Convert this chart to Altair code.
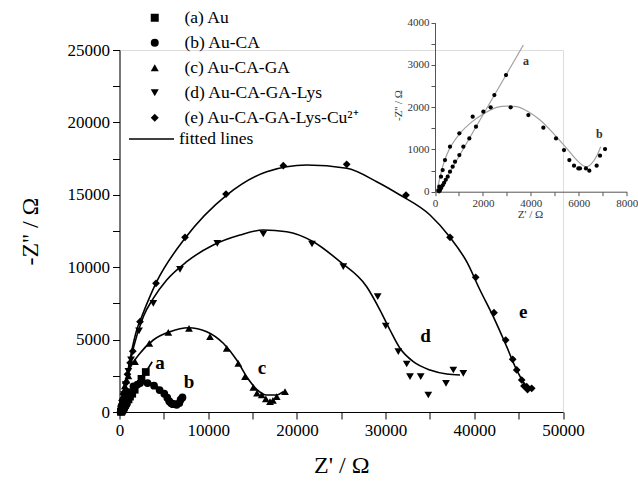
import altair as alt
import pandas as pd

# ---------------- data ----------------
names = ["(a) Au", "(b) Au-CA", "(c) Au-CA-GA", "(d) Au-CA-GA-Lys", "(e) Au-CA-GA-Lys-Cu²⁺"]
shapes = ["square", "circle", "triangle-up", "triangle-down", "diamond"]

a_x = [170, 210, 260, 320, 380, 450, 529, 626, 737, 835, 1016, 1183, 1433, 1711, 2477, 2963]
a_y = [10, 40, 90, 150, 210, 280, 355, 473, 592, 710, 868, 1065, 1262, 1538, 2288, 2761]
a_fit_x = [146, 3687]
a_fit_y = [0, 3471]

b_x = [140, 181, 250, 320, 417, 626, 1016, 1572, 2017, 2323, 3158, 3896, 4522, 5050, 5384,
       5607, 5802, 5983, 6050, 6300, 6440, 6746, 6887, 7096]
b_y = [30, 118, 355, 513, 750, 1065, 1381, 1775, 1893, 1996, 1996, 1815, 1515, 1262, 986,
       750, 615, 552, 552, 552, 497, 615, 852, 1010]
b_fit_x = [70, 181, 320, 487, 696, 1043, 1461, 1948, 2574, 2991, 3409, 3896, 4383, 4939, 5496,
           5913, 6191, 6330, 6539, 6748, 6915]
b_fit_y = [0, 276, 592, 868, 1105, 1381, 1617, 1815, 1996, 2027, 2012, 1893, 1696, 1381, 1026,
           750, 615, 592, 671, 844, 1065]

c_x = [100, 150, 220, 300, 450, 600, 800, 1000, 1747, 3360, 5502, 7835, 10203, 12086, 13393,
       14148, 15084, 15500, 16032, 16500, 16968, 17300, 17723, 18659]
c_y = [150, 400, 700, 1000, 1400, 1800, 2200, 2500, 3474, 4744, 5504, 5780, 5200, 4399, 3363,
       2438, 1706, 1300, 1174, 900, 711, 800, 1057, 1402]
c_fit_x = [56, 620, 1184, 2311, 3811, 5693, 7756, 9831, 11703, 13213, 14341, 15468, 16595, 17723, 18467]
c_fit_y = [138, 1982, 3018, 4054, 4972, 5546, 5822, 5546, 4744, 3591, 2438, 1568, 1174, 1174, 1402]

d_x = [150, 300, 500, 700, 1000, 1300, 2200, 3811, 6821, 11026, 16212, 21703, 25231, 29110,
       30012, 31432, 32379, 32751, 33958, 34814, 36810, 37633, 38760]
d_y = [200, 600, 1200, 1900, 2800, 3600, 5600, 7507, 9855, 11650, 12293, 11602, 10034, 7963,
       5939, 4164, 3315, 2438, 2438, 1174, 1982, 2901, 2673]
d_fit_x = [150, 800, 1600, 2683, 3811, 5321, 7576, 10575, 13585, 16212, 18850, 21849, 24859,
           27869, 29369, 30496, 31624, 33123, 35006, 36889, 38388]
d_fit_y = [0, 2200, 4500, 6581, 7852, 9116, 10380, 11533, 12224, 12569, 12452, 11761, 10380,
           8653, 7044, 5663, 4399, 3474, 2901, 2624, 2555]

e_x = [150, 250, 400, 500, 700, 900, 1200, 1500, 2311, 4115, 7385, 12007, 18467, 25615, 32300,
       37260, 40157, 42220, 43540, 44329, 44780, 45344, 45600, 45908, 46000, 46471]
e_y = [200, 400, 900, 1300, 2000, 2600, 3400, 4200, 6236, 8888, 12065, 15055, 17010, 17106, 14986,
       12065, 9302, 6858, 4972, 3639, 2901, 2210, 1800, 1747, 1550, 1637]
e_fit_x = [150, 700, 1300, 1939, 2503, 4194, 7385, 12086, 16595, 21105, 25615, 28997, 31624,
           35006, 37260, 39143, 40642, 42141, 43652, 44780, 46088, 46651]
e_fit_y = [0, 2000, 4000, 5663, 6581, 8999, 11996, 14986, 16595, 17058, 16830, 15905, 14986,
           13605, 12065, 10380, 8425, 6581, 4510, 2901, 1637, 1519]

curve_labels = ["a", "b", "c", "d", "e"]
curve_label_x = [4566, 7835, 16065, 34500, 45525]
curve_label_y = [3384, 2072, 3039, 5280, 6927]

inset_labels = ["a", "b"]
inset_label_x = [3798, 6857]
inset_label_y = [3100, 1366]

# ---------------- tables ----------------
pts = []
for n, xs, ys in zip(names, [a_x, b_x, c_x, d_x, e_x], [a_y, b_y, c_y, d_y, e_y]):
    for x, y in zip(xs, ys):
        pts.append({"x": x, "y": y, "series": n})
pts = pd.DataFrame(pts)

fits = []
for n, xs, ys in zip(names, [a_fit_x, b_fit_x, c_fit_x, d_fit_x, e_fit_x],
                     [a_fit_y, b_fit_y, c_fit_y, d_fit_y, e_fit_y]):
    for i, (x, y) in enumerate(zip(xs, ys)):
        fits.append({"x": x, "y": y, "series": n, "i": i, "fit": "fitted lines"})
fits = pd.DataFrame(fits)

lab = pd.DataFrame({"x": curve_label_x, "y": curve_label_y, "t": curve_labels})

ipts = pts[pts["series"].isin(names[:2])]
ifits = fits[fits["series"].isin(names[:2])]
ilab = pd.DataFrame({"x": inset_label_x, "y": inset_label_y, "t": inset_labels})

# ---------------- layout ----------------
W, H = 443.5, 362
L, T = 119.5, 50
SERIF = "Liberation Serif"

# inset geometry in plot coordinates
IX0, IX1 = 435 - L, 626.7 - L
IY0, IY1 = 191.7 - T, 22.7 - T

main_x = alt.X("x:Q", scale=alt.Scale(domain=[0, 50000], nice=False),
               axis=alt.Axis(values=list(range(0, 50001, 5000)),
                             labelExpr="datum.value % 10000 == 0 ? format(datum.value, 'd') : ''",
                             title="Z' / Ω", titleX=W / 2, titleY=53, titleBaseline="middle",
                             titleFont=SERIF, titleFontSize=24, titleFontWeight="normal",
                             labelFont=SERIF, labelFontSize=17, labelColor="black",
                             tickSize=7, tickColor="black", domainColor="black",
                             labelPadding=3, grid=False, labelFlush=False))
main_y = alt.Y("y:Q", scale=alt.Scale(domain=[0, 25000], nice=False),
               axis=alt.Axis(values=list(range(0, 25001, 2500)),
                             labelExpr="datum.value % 5000 == 0 ? format(datum.value, 'd') : ''",
                             title="-Z'' / Ω", titleX=-89, titleY=H / 2, titleBaseline="middle",
                             titleAlign="center", titleAngle=270,
                             titleFont=SERIF, titleFontSize=24, titleFontWeight="normal",
                             labelFont=SERIF, labelFontSize=17, labelColor="black",
                             tickSize=7, tickColor="black", domainColor="black",
                             labelPadding=3, grid=False, labelFlush=False))

main_lines = alt.Chart(fits).mark_line(strokeWidth=1.6, interpolate="monotone").encode(
    x=main_x, y=main_y, detail="series:N", order="i:Q",
    color=alt.Color("fit:N", scale=alt.Scale(domain=["fitted lines"], range=["black"]),
                    legend=alt.Legend(title=None, orient="none", legendX=8.5, legendY=65.5,
                                      symbolType="stroke", symbolSize=2025, symbolStrokeWidth=1.5,
                                      labelFont=SERIF, labelFontSize=17.5, labelColor="black",
                                      labelOffset=4, padding=0)))

main_points = alt.Chart(pts).mark_point(filled=True, color="black", opacity=1).encode(
    x=main_x, y=main_y,
    size=alt.Size("series:N", scale=alt.Scale(domain=names, range=[60, 60, 85, 85, 95]),
                  legend=None),
    shape=alt.Shape("series:N", scale=alt.Scale(domain=names, range=shapes),
                    legend=alt.Legend(title=None, orient="none", legendX=26.5, legendY=-41,
                                      symbolSize=64, symbolFillColor="black", symbolStrokeWidth=0,
                                      symbolOpacity=1,
                                      labelFont=SERIF, labelFontSize=17.5, labelColor="black",
                                      labelOffset=21, rowPadding=6, padding=0, labelLimit=300)))

main_text = alt.Chart(lab).mark_text(font=SERIF, fontSize=19, fontWeight="bold",
                                     color="black").encode(x=main_x, y=main_y, text="t:N")

main = alt.layer(main_lines, main_points, main_text)

in_x = alt.X("x:Q", scale=alt.Scale(domain=[0, 8000], range=[IX0, IX1], nice=False),
             axis=alt.Axis(orient="bottom", offset=-(H - IY0),
                           values=list(range(0, 8001, 1000)),
                           labelExpr="datum.value % 2000 == 0 ? format(datum.value, 'd') : ''",
                           title="Z' / Ω", titleX=530 - L, titleY=23, titleBaseline="middle",
                           titleFont=SERIF, titleFontSize=11, titleFontWeight="normal",
                           titleColor="#333",
                           labelFont=SERIF, labelFontSize=11, labelColor="#333",
                           tickSize=4, tickColor="#555", domainColor="#555",
                           labelPadding=2, grid=False, labelFlush=False))
in_y = alt.Y("y:Q", scale=alt.Scale(domain=[0, 4000], range=[IY0, IY1], nice=False),
             axis=alt.Axis(orient="left", offset=-IX0,
                           values=list(range(0, 4001, 500)),
                           labelExpr="datum.value % 1000 == 0 ? format(datum.value, 'd') : ''",
                           title="-Z'' / Ω", titleX=-37, titleY=105 - T, titleBaseline="middle",
                           titleAlign="center", titleAngle=270,
                           titleFont=SERIF, titleFontSize=11, titleFontWeight="normal",
                           titleColor="#333",
                           labelFont=SERIF, labelFontSize=11, labelColor="#333",
                           tickSize=4, tickColor="#555", domainColor="#555",
                           labelPadding=2, grid=False, labelFlush=False))

inset_lines = alt.Chart(ifits).mark_line(strokeWidth=1.2, color="#a0a0a0",
                                         interpolate="monotone").encode(
    x=in_x, y=in_y, detail="series:N", order="i:Q")
inset_points = alt.Chart(ipts).mark_circle(color="black", size=18, opacity=1).encode(x=in_x, y=in_y)
inset_text = alt.Chart(ilab).mark_text(font=SERIF, fontSize=12, fontWeight="bold",
                                       color="#333").encode(x=in_x, y=in_y, text="t:N")
inset = alt.layer(inset_lines, inset_points, inset_text)

chart = alt.layer(main, inset).resolve_scale(
    x="independent", y="independent", size="independent").properties(
    width=W, height=H,
    autosize=alt.AutoSizeParams(type="none"),
    padding={"left": L, "top": T, "right": 638 - L - W, "bottom": 486 - T - H},
).configure_view(stroke=None).configure(background="white")

chart.save("out.html", embed_options={"renderer": "svg", "actions": False})
